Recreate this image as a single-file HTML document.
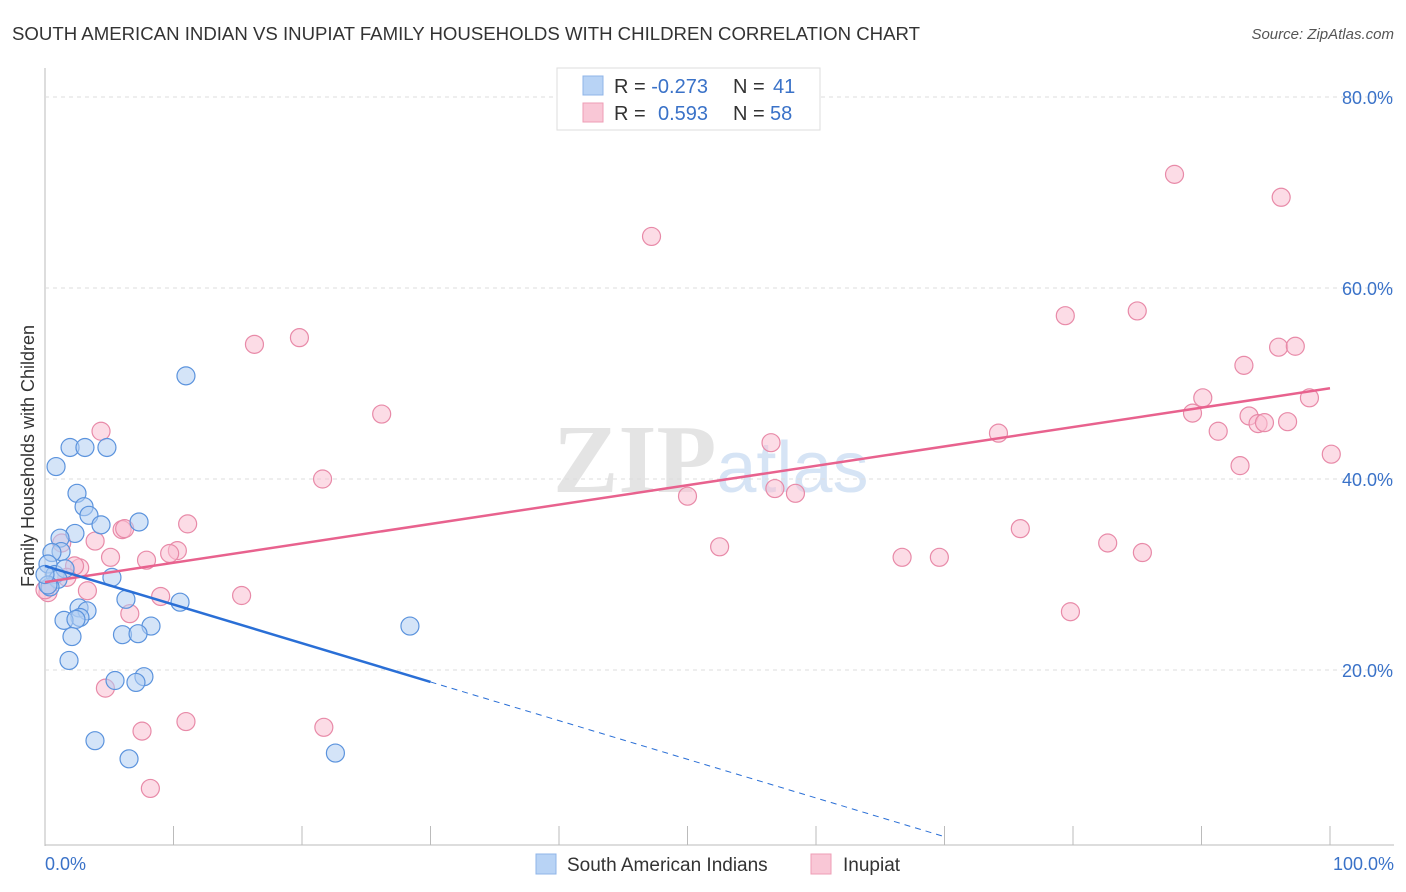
<!DOCTYPE html>
<html><head><meta charset="utf-8"><style>
body{margin:0;background:#fff;font-family:"Liberation Sans",sans-serif}
svg{display:block}
</style></head><body>
<svg id="c" width="1406" height="892">
<text x="12" y="40" font-size="18" fill="#333" textLength="908" lengthAdjust="spacingAndGlyphs">SOUTH AMERICAN INDIAN VS INUPIAT FAMILY HOUSEHOLDS WITH CHILDREN CORRELATION CHART</text>
<text x="1394" y="39" font-size="15" fill="#555" font-style="italic" text-anchor="end">Source: ZipAtlas.com</text>
<text x="553" y="492" font-size="98" fill="#e4e4e4" font-family="Liberation Serif" font-weight="bold">ZIP<tspan fill="#d6e4f5" font-family="Liberation Sans" font-weight="normal" font-size="72">atlas</tspan></text>
<text transform="translate(34,456) rotate(-90)" font-size="18" fill="#333" text-anchor="middle">Family Households with Children</text>
<g id="grid"></g><g id="marks"></g>
<g>
<rect x="557" y="68" width="263" height="62" fill="#fff" stroke="#ddd"/>
<rect x="583" y="76" width="20" height="19" fill="#b8d3f5" stroke="#8fb5e8"/>
<rect x="583" y="103" width="20" height="19" fill="#f9c7d6" stroke="#ee9db5"/>
<text x="614" y="93" font-size="20" fill="#333">R = <tspan fill="#3a72c8">-0.273</tspan><tspan x="733">N = </tspan><tspan fill="#3a72c8" x="773">41</tspan></text>
<text x="614" y="120" font-size="20" fill="#333">R = <tspan fill="#3a72c8" x="658">0.593</tspan><tspan x="733">N = </tspan><tspan fill="#3a72c8" x="770">58</tspan></text>
</g>
<g>
<rect x="536" y="854" width="20" height="20" fill="#b8d3f5" stroke="#8fb5e8"/>
<text x="567" y="871" font-size="19" fill="#333">South American Indians</text>
<rect x="811" y="854" width="20" height="20" fill="#f9c7d6" stroke="#ee9db5"/>
<text x="843" y="871" font-size="19" fill="#333">Inupiat</text>
</g>
</svg>
<script>
const xTicks=[0,10,20,30,40,50,60,70,80,90,100];
const yTicks=[20,40,60,80];
const blueX=[10.97,1.95,3.11,4.82,0.86,2.49,3.04,3.42,4.36,7.32,2.33,1.17,1.25,0.54,0.23,0.78,1.56,5.21,1.01,0.39,6.30,10.51,2.65,3.27,2.72,1.48,2.41,8.25,6.03,7.24,28.4,2.10,1.87,5.45,7.70,7.08,3.89,6.54,22.6,0.23,0.0];
const blueY=[50.8,43.3,43.3,43.3,41.3,38.5,37.1,36.2,35.2,35.5,34.3,33.8,32.4,32.3,31.1,30.0,30.6,29.7,29.5,28.7,27.4,27.1,26.5,26.2,25.5,25.2,25.3,24.6,23.7,23.8,24.6,23.5,21.0,18.9,19.3,18.7,12.6,10.7,11.3,28.9,30.0];
const pinkX=[47.2,87.9,96.2,16.3,19.8,79.4,85.0,96.0,97.3,93.3,26.2,4.36,90.1,89.3,98.4,93.7,94.4,94.9,96.7,91.3,74.2,56.5,100.1,93.0,21.6,56.8,58.4,50.0,75.9,11.1,6.0,6.2,3.9,1.3,52.5,82.7,85.4,10.3,9.7,7.9,5.1,66.7,69.6,2.7,2.3,1.7,3.3,15.3,9.0,6.6,79.8,4.7,10.97,7.55,21.7,8.2,0.23,0.0];
const pinkY=[65.4,71.9,69.5,54.1,54.8,57.1,57.6,53.8,53.9,51.9,46.8,45.0,48.5,46.9,48.5,46.6,45.8,45.9,46.0,45.0,44.8,43.8,42.6,41.4,40.0,39.0,38.5,38.2,34.8,35.3,34.7,34.8,33.5,33.3,32.9,33.3,32.3,32.5,32.2,31.5,31.8,31.8,31.8,30.7,30.9,29.7,28.3,27.8,27.7,25.9,26.1,18.1,14.6,13.6,14.0,7.6,28.1,28.4];
const blueLine=[30.9,-0.405]; const pinkLine=[29.2,0.203];
const X=v=>45+v*12.85, Y=v=>861-v*9.55;
const NS='http://www.w3.org/2000/svg';
function mk(t,a,p){const e=document.createElementNS(NS,t);for(const k in a)e.setAttribute(k,a[k]);p.appendChild(e);return e;}
const g=document.getElementById('grid'),m=document.getElementById('marks');
let ax=mk('line',{x1:45,y1:68,x2:45,y2:846,stroke:'#bbb'},g);

let bx=mk('line',{x1:45,y1:845,x2:1394,y2:845,stroke:'#bbb'},g);

yTicks.forEach(t=>{let l=mk('line',{x1:45,y1:Y(t),x2:1394,y2:Y(t),stroke:'#ddd','stroke-dasharray':'4,4'},g);

let tx=mk('text',{x:1393,y:Y(t)+7,'font-size':18,fill:'#3a72c8','text-anchor':'end'},g);tx.textContent=t.toFixed(1)+'%';
});
xTicks.forEach(t=>{let l=mk('line',{x1:X(t),y1:826,x2:X(t),y2:845,stroke:'#bbb'},g);
});
[[0,'0.0%','start',45],[100,'100.0%','end',1394]].forEach(a=>{let tx=mk('text',{x:a[3],y:870,'font-size':18,fill:'#3a72c8','text-anchor':a[2]},g);tx.textContent=a[1];
});
function pts(xs,ys,f,s,n){xs.forEach((x,i)=>{let c=mk('circle',{cx:X(x),cy:Y(ys[i]),r:9,fill:f,'fill-opacity':0.55,stroke:s,'stroke-width':1.2},m);
});}
pts(pinkX,pinkY,'#f9c0d2','#e88aa8','inupiat-point');
pts(blueX,blueY,'#b0cdf2','#5b93dd','south-american-indian-point');
let pl=mk('line',{x1:X(0),y1:Y(pinkLine[0]),x2:X(100),y2:Y(pinkLine[0]+100*pinkLine[1]),stroke:'#e8628e','stroke-width':2.5},m);

let bl=mk('line',{x1:X(0),y1:Y(blueLine[0]),x2:X(30),y2:Y(blueLine[0]+30*blueLine[1]),stroke:'#2a6fd6','stroke-width':2.5},m);

let xe=70;
let bd=mk('line',{x1:X(30),y1:Y(blueLine[0]+30*blueLine[1]),x2:X(xe),y2:Y(blueLine[0]+xe*blueLine[1]),stroke:'#2a6fd6','stroke-width':1,'stroke-dasharray':'6,5'},m);

</script>
</body></html>
